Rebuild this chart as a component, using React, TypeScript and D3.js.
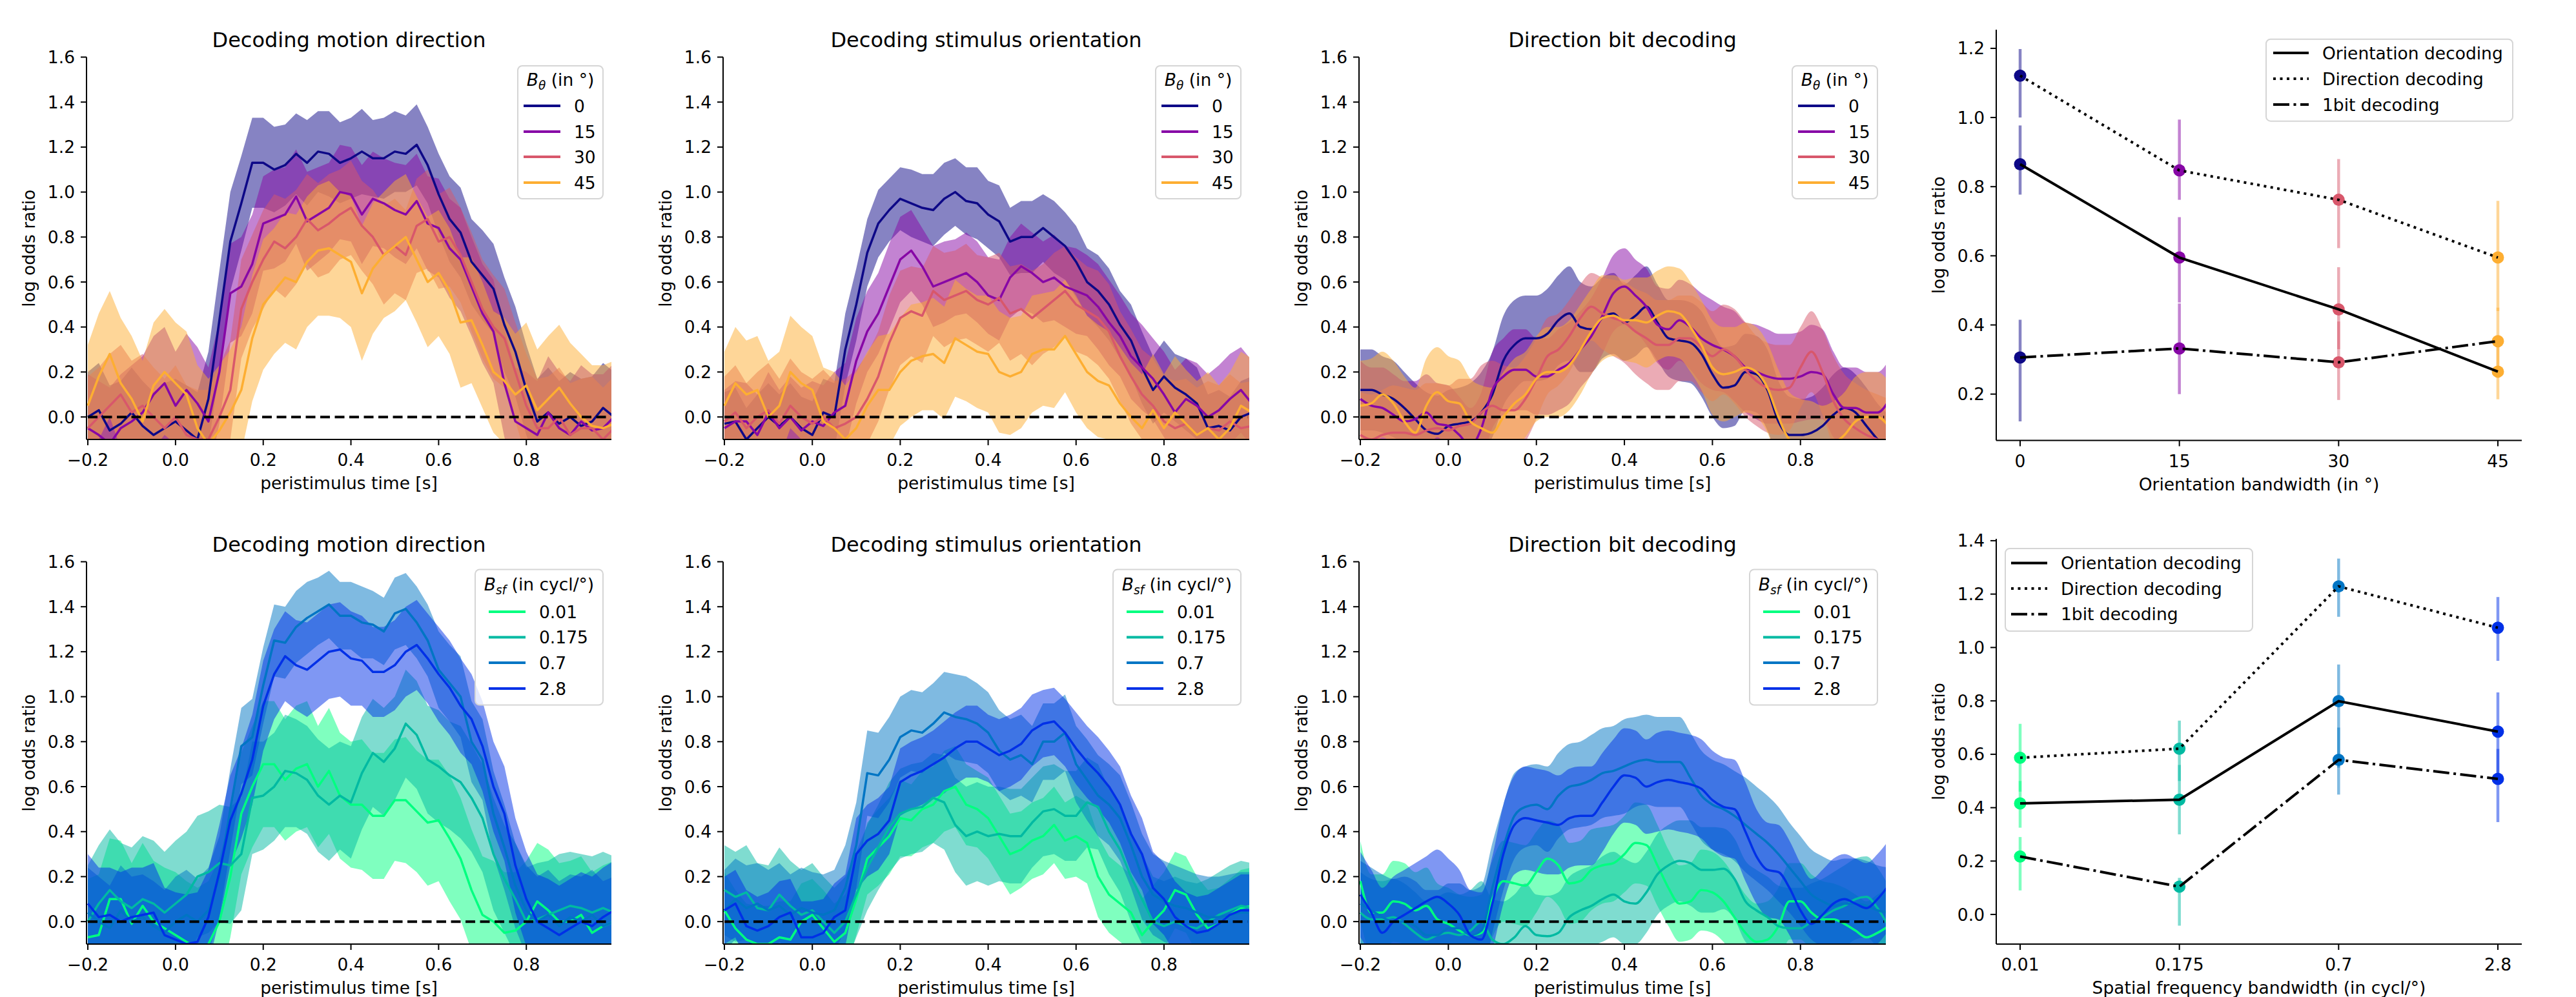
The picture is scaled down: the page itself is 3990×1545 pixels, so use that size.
import React from 'react';
import * as d3 from 'd3';

// ---------------- data ----------------
const TIMES = [-0.2, -0.175, -0.15, -0.125, -0.1, -0.075, -0.05, -0.025, 0.0, 0.025,
  0.05, 0.075, 0.1, 0.125, 0.15, 0.175, 0.2, 0.225, 0.25, 0.275,
  0.3, 0.325, 0.35, 0.375, 0.4, 0.425, 0.45, 0.475, 0.5, 0.525,
  0.55, 0.575, 0.6, 0.625, 0.65, 0.675, 0.7, 0.725, 0.75, 0.775,
  0.8, 0.825, 0.85, 0.875, 0.9, 0.925, 0.95, 0.975, 1.0];

const THETA_LABELS = ['0', '15', '30', '45'];
const SF_LABELS = ['0.01', '0.175', '0.7', '2.8'];
const THETA_COLORS = ['#0d0887', '#8707a6', '#d8576b', '#fdae32'];
const SF_COLORS = ['#00ff80', '#00baa2', '#0075c4', '#0030e7'];

const TIME_XTICKS = [-0.2, 0, 0.2, 0.4, 0.6, 0.8];
const TIME_YTICKS = [0, 0.2, 0.4, 0.6, 0.8, 1.0, 1.2, 1.4, 1.6];

// Panel 1: decoding motion direction (B_theta)
const motTh0 = [0.0, 0.03, -0.06, -0.03, 0.02, -0.04, -0.08, -0.05, -0.02, -0.06, -0.1, 0.08, 0.43, 0.78, 0.95, 1.13, 1.13, 1.1, 1.12, 1.17, 1.13, 1.18, 1.17, 1.13, 1.15, 1.18, 1.15, 1.15, 1.18, 1.17, 1.21, 1.12, 0.99, 0.88, 0.82, 0.69, 0.63, 0.57, 0.41, 0.29, 0.12, -0.02, 0.02, -0.03, 0.0, -0.04, -0.02, 0.04, 0.0];
const motTh0Err = [0.2, 0.21, 0.2, 0.19, 0.2, 0.2, 0.19, 0.2, 0.19, 0.2, 0.21, 0.21, 0.22, 0.22, 0.21, 0.2, 0.2, 0.19, 0.18, 0.18, 0.19, 0.18, 0.19, 0.18, 0.18, 0.19, 0.17, 0.18, 0.18, 0.17, 0.18, 0.17, 0.18, 0.19, 0.2, 0.19, 0.2, 0.2, 0.21, 0.2, 0.2, 0.19, 0.2, 0.19, 0.2, 0.21, 0.2, 0.2, 0.2];
const motTh15 = [-0.05, -0.08, -0.12, -0.05, -0.02, 0.02, 0.1, 0.15, 0.05, 0.12, 0.06, -0.02, 0.2, 0.55, 0.58, 0.68, 0.86, 0.88, 0.9, 0.98, 0.87, 0.9, 0.93, 1.0, 0.99, 0.9, 0.97, 0.95, 0.92, 0.9, 0.96, 0.86, 0.84, 0.75, 0.7, 0.58, 0.46, 0.38, 0.15, -0.02, -0.05, -0.08, 0.02, -0.05, -0.08, -0.02, -0.06, -0.05, 0.0];
const motTh15Err = [0.24, 0.24, 0.25, 0.24, 0.25, 0.25, 0.26, 0.25, 0.24, 0.25, 0.25, 0.24, 0.23, 0.22, 0.22, 0.22, 0.21, 0.22, 0.21, 0.21, 0.22, 0.21, 0.2, 0.21, 0.21, 0.22, 0.21, 0.2, 0.21, 0.22, 0.21, 0.21, 0.22, 0.22, 0.23, 0.22, 0.22, 0.23, 0.24, 0.24, 0.25, 0.24, 0.25, 0.25, 0.24, 0.25, 0.25, 0.24, 0.24];
const motTh30 = [-0.05, 0.0, 0.05, 0.1, 0.02, 0.05, 0.0, -0.05, 0.0, -0.08, -0.1, -0.1, 0.0, 0.12, 0.48, 0.6, 0.7, 0.78, 0.75, 0.8, 0.88, 0.83, 0.86, 0.9, 0.93, 0.85, 0.8, 0.72, 0.76, 0.72, 0.85, 0.88, 0.78, 0.8, 0.72, 0.6, 0.48, 0.4, 0.35, 0.2, 0.05, -0.05, -0.05, 0.0, -0.08, -0.05, -0.05, -0.1, -0.05];
const motTh30Err = [0.23, 0.22, 0.23, 0.22, 0.23, 0.23, 0.22, 0.22, 0.23, 0.22, 0.22, 0.22, 0.23, 0.22, 0.22, 0.21, 0.22, 0.21, 0.22, 0.21, 0.2, 0.21, 0.22, 0.2, 0.21, 0.2, 0.21, 0.22, 0.21, 0.2, 0.21, 0.22, 0.21, 0.22, 0.21, 0.22, 0.22, 0.23, 0.22, 0.22, 0.23, 0.22, 0.23, 0.22, 0.23, 0.22, 0.23, 0.23, 0.23];
const motTh45 = [0.05, 0.18, 0.28, 0.15, 0.08, -0.02, 0.14, 0.2, 0.15, 0.1, -0.05, -0.12, -0.06, 0.02, 0.12, 0.35, 0.5, 0.56, 0.62, 0.6, 0.69, 0.74, 0.75, 0.72, 0.69, 0.55, 0.66, 0.72, 0.76, 0.8, 0.7, 0.6, 0.64, 0.56, 0.42, 0.43, 0.32, 0.2, 0.16, 0.1, 0.14, 0.03, 0.08, 0.13, 0.06, 0.0, -0.04, -0.05, -0.03];
const motTh45Err = [0.27, 0.28, 0.28, 0.29, 0.28, 0.27, 0.28, 0.28, 0.27, 0.28, 0.28, 0.29, 0.29, 0.28, 0.28, 0.28, 0.29, 0.28, 0.29, 0.3, 0.29, 0.29, 0.3, 0.28, 0.29, 0.3, 0.29, 0.28, 0.29, 0.28, 0.28, 0.29, 0.28, 0.28, 0.29, 0.28, 0.28, 0.27, 0.28, 0.27, 0.28, 0.27, 0.28, 0.28, 0.27, 0.28, 0.27, 0.28, 0.28];

// Panel 2: decoding stimulus orientation (B_theta)
const oriTh0 = [-0.03, -0.02, -0.1, -0.05, 0.0, -0.04, 0.0, -0.05, -0.08, 0.02, 0.0, 0.3, 0.5, 0.73, 0.86, 0.92, 0.97, 0.95, 0.93, 0.92, 0.97, 1.0, 0.96, 0.95, 0.9, 0.87, 0.78, 0.8, 0.8, 0.84, 0.8, 0.76, 0.69, 0.6, 0.56, 0.5, 0.41, 0.34, 0.22, 0.12, 0.18, 0.13, 0.1, 0.06, -0.05, -0.04, -0.06, 0.0, 0.02];
const oriTh0Err = [0.14, 0.15, 0.14, 0.15, 0.15, 0.14, 0.15, 0.14, 0.15, 0.15, 0.15, 0.16, 0.16, 0.15, 0.15, 0.14, 0.14, 0.15, 0.15, 0.16, 0.16, 0.15, 0.15, 0.16, 0.15, 0.16, 0.15, 0.16, 0.16, 0.15, 0.16, 0.15, 0.16, 0.15, 0.16, 0.16, 0.15, 0.16, 0.16, 0.15, 0.16, 0.15, 0.16, 0.16, 0.15, 0.16, 0.15, 0.16, 0.16];
const oriTh15 = [-0.05, -0.02, -0.02, -0.08, 0.02, -0.05, 0.0, -0.06, -0.02, -0.04, 0.02, 0.05, 0.25, 0.38, 0.46, 0.58, 0.7, 0.74, 0.67, 0.58, 0.6, 0.62, 0.64, 0.6, 0.54, 0.52, 0.62, 0.67, 0.64, 0.6, 0.62, 0.58, 0.56, 0.54, 0.49, 0.42, 0.36, 0.27, 0.22, 0.17, 0.1, 0.02, 0.08, 0.05, 0.0, 0.03, 0.08, 0.12, 0.06];
const oriTh15Err = [0.17, 0.18, 0.17, 0.18, 0.18, 0.17, 0.18, 0.19, 0.18, 0.18, 0.18, 0.19, 0.19, 0.18, 0.18, 0.19, 0.19, 0.18, 0.17, 0.18, 0.18, 0.17, 0.18, 0.18, 0.17, 0.18, 0.18, 0.19, 0.18, 0.18, 0.19, 0.18, 0.19, 0.18, 0.19, 0.19, 0.18, 0.19, 0.19, 0.18, 0.19, 0.19, 0.18, 0.19, 0.19, 0.2, 0.2, 0.19, 0.19];
const oriTh30 = [-0.02, 0.02, -0.05, 0.0, 0.03, -0.03, 0.05, 0.0, -0.03, 0.0, -0.05, -0.03, 0.0, 0.08, 0.18, 0.33, 0.44, 0.47, 0.45, 0.56, 0.52, 0.54, 0.56, 0.52, 0.5, 0.53, 0.46, 0.48, 0.44, 0.48, 0.52, 0.56, 0.5, 0.47, 0.44, 0.38, 0.27, 0.18, 0.1, 0.05, -0.02, -0.05, -0.03, -0.08, -0.05, -0.06, -0.02, -0.05, -0.04];
const oriTh30Err = [0.2, 0.21, 0.2, 0.2, 0.21, 0.2, 0.21, 0.2, 0.2, 0.21, 0.21, 0.2, 0.21, 0.2, 0.2, 0.21, 0.21, 0.2, 0.21, 0.2, 0.21, 0.2, 0.21, 0.2, 0.21, 0.2, 0.21, 0.2, 0.21, 0.2, 0.21, 0.2, 0.21, 0.2, 0.21, 0.21, 0.2, 0.21, 0.2, 0.21, 0.2, 0.21, 0.2, 0.21, 0.21, 0.2, 0.21, 0.2, 0.2];
const oriTh45 = [0.05, 0.15, 0.1, 0.12, 0.0, 0.05, 0.2, 0.15, 0.12, -0.02, -0.05, -0.1, -0.05, 0.05, 0.12, 0.12, 0.2, 0.25, 0.27, 0.28, 0.24, 0.35, 0.32, 0.29, 0.28, 0.2, 0.18, 0.2, 0.28, 0.3, 0.3, 0.36, 0.28, 0.2, 0.16, 0.14, 0.06, 0.0, -0.05, 0.03, -0.05, 0.02, -0.03, -0.08, -0.05, -0.1, -0.05, 0.05, 0.02];
const oriTh45Err = [0.24, 0.25, 0.24, 0.24, 0.25, 0.24, 0.25, 0.25, 0.24, 0.24, 0.25, 0.24, 0.25, 0.24, 0.24, 0.25, 0.24, 0.25, 0.24, 0.25, 0.25, 0.26, 0.25, 0.25, 0.26, 0.27, 0.26, 0.25, 0.26, 0.25, 0.26, 0.25, 0.26, 0.25, 0.25, 0.24, 0.25, 0.24, 0.24, 0.25, 0.24, 0.25, 0.24, 0.24, 0.25, 0.24, 0.25, 0.24, 0.24];

// Panel 3: direction bit decoding (B_theta)
const bitTh0 = [0.12, 0.12, 0.1, 0.08, 0.04, -0.01, -0.06, -0.075, -0.04, -0.03, -0.02, 0.02, 0.1, 0.25, 0.32, 0.35, 0.35, 0.37, 0.43, 0.46, 0.4, 0.39, 0.44, 0.46, 0.42, 0.45, 0.49, 0.42, 0.35, 0.34, 0.33, 0.28, 0.19, 0.13, 0.14, 0.2, 0.19, 0.12, -0.02, -0.08, -0.08, -0.07, -0.04, 0.01, 0.04, 0.02, -0.04, -0.1, -0.15];
const bitTh0Err = [0.18, 0.18, 0.17, 0.17, 0.16, 0.16, 0.17, 0.17, 0.16, 0.16, 0.17, 0.18, 0.19, 0.2, 0.2, 0.19, 0.19, 0.2, 0.2, 0.21, 0.2, 0.19, 0.18, 0.18, 0.17, 0.18, 0.18, 0.17, 0.17, 0.18, 0.18, 0.19, 0.19, 0.18, 0.18, 0.17, 0.17, 0.18, 0.18, 0.17, 0.16, 0.16, 0.17, 0.18, 0.18, 0.17, 0.17, 0.16, 0.16];
const bitTh15 = [0.08, 0.05, 0.04, 0.01, -0.02, -0.01, 0.02, -0.03, -0.04, -0.08, -0.13, -0.05, 0.12, 0.18, 0.21, 0.21, 0.18, 0.18, 0.21, 0.24, 0.3, 0.36, 0.45, 0.55, 0.58, 0.54, 0.49, 0.41, 0.39, 0.43, 0.4, 0.35, 0.32, 0.3, 0.27, 0.22, 0.2, 0.18, 0.17, 0.17, 0.18, 0.2, 0.19, 0.1, 0.04, 0.04, 0.02, 0.02, 0.07];
const bitTh15Err = [0.17, 0.17, 0.18, 0.18, 0.18, 0.17, 0.17, 0.18, 0.18, 0.17, 0.17, 0.16, 0.17, 0.17, 0.18, 0.18, 0.17, 0.17, 0.18, 0.18, 0.17, 0.17, 0.17, 0.17, 0.17, 0.16, 0.17, 0.17, 0.18, 0.18, 0.19, 0.2, 0.2, 0.19, 0.2, 0.2, 0.21, 0.21, 0.2, 0.2, 0.2, 0.21, 0.2, 0.19, 0.18, 0.18, 0.18, 0.18, 0.18];
const bitTh30 = [-0.08, -0.1, -0.08, -0.07, -0.07, -0.08, -0.06, -0.05, -0.06, -0.04, -0.03, 0.02, 0.05, 0.03, 0.03, 0.08, 0.17, 0.27, 0.3, 0.36, 0.44, 0.49, 0.46, 0.44, 0.42, 0.38, 0.35, 0.32, 0.32, 0.35, 0.35, 0.31, 0.27, 0.3, 0.27, 0.21, 0.16, 0.13, 0.12, 0.13, 0.22, 0.29, 0.2, 0.07, -0.01, -0.05, -0.08, -0.1, -0.12];
const bitTh30Err = [0.19, 0.2, 0.2, 0.21, 0.2, 0.2, 0.21, 0.2, 0.2, 0.21, 0.2, 0.21, 0.2, 0.2, 0.19, 0.19, 0.18, 0.17, 0.16, 0.16, 0.15, 0.15, 0.16, 0.17, 0.18, 0.19, 0.2, 0.2, 0.2, 0.19, 0.19, 0.2, 0.2, 0.2, 0.21, 0.21, 0.2, 0.2, 0.2, 0.19, 0.18, 0.18, 0.19, 0.2, 0.2, 0.2, 0.2, 0.2, 0.2];
const bitTh45 = [0.05, 0.06, 0.1, 0.06, -0.02, -0.07, 0.05, 0.11, 0.07, 0.06, -0.02, -0.05, -0.07, 0.0, 0.06, 0.1, 0.17, 0.2, 0.2, 0.23, 0.3, 0.38, 0.44, 0.45, 0.43, 0.43, 0.42, 0.45, 0.47, 0.46, 0.4, 0.32, 0.22, 0.19, 0.2, 0.22, 0.2, 0.13, 0.0, -0.1, -0.12, -0.13, -0.15, -0.12, -0.08, -0.02, 0.0, 0.0, -0.04];
const bitTh45Err = [0.2, 0.2, 0.19, 0.19, 0.2, 0.2, 0.21, 0.2, 0.2, 0.19, 0.19, 0.19, 0.2, 0.2, 0.2, 0.19, 0.19, 0.2, 0.2, 0.2, 0.2, 0.19, 0.19, 0.18, 0.18, 0.19, 0.2, 0.2, 0.2, 0.2, 0.2, 0.2, 0.21, 0.21, 0.2, 0.2, 0.2, 0.2, 0.21, 0.21, 0.2, 0.2, 0.2, 0.19, 0.19, 0.2, 0.2, 0.2, 0.2];

// Panel 5: decoding motion direction (B_sf)
const motSf001 = [-0.07, -0.06, 0.1, 0.1, -0.01, 0.07, 0.0, -0.03, -0.06, -0.09, -0.12, -0.1, 0.0, 0.2, 0.48, 0.6, 0.7, 0.7, 0.63, 0.68, 0.7, 0.6, 0.67, 0.56, 0.52, 0.52, 0.47, 0.47, 0.54, 0.54, 0.49, 0.44, 0.45, 0.37, 0.28, 0.14, 0.03, 0.0, -0.05, -0.04, 0.0, 0.09, 0.05, 0.0, 0.0, 0.03, -0.05, -0.02, 0.0];
const motSf001Err = [0.26, 0.27, 0.27, 0.26, 0.27, 0.28, 0.27, 0.27, 0.28, 0.27, 0.27, 0.28, 0.28, 0.27, 0.27, 0.27, 0.28, 0.28, 0.27, 0.28, 0.28, 0.27, 0.28, 0.28, 0.28, 0.29, 0.28, 0.28, 0.27, 0.28, 0.27, 0.28, 0.27, 0.28, 0.27, 0.27, 0.26, 0.27, 0.27, 0.26, 0.27, 0.26, 0.27, 0.26, 0.27, 0.26, 0.27, 0.27, 0.27];
const motSf0175 = [0.0, 0.08, 0.14, 0.09, 0.06, 0.1, 0.08, 0.04, 0.08, 0.12, 0.2, 0.22, 0.26, 0.25, 0.3, 0.55, 0.56, 0.6, 0.67, 0.66, 0.63, 0.56, 0.52, 0.56, 0.53, 0.66, 0.75, 0.71, 0.77, 0.88, 0.83, 0.72, 0.69, 0.65, 0.62, 0.55, 0.46, 0.3, 0.19, 0.1, 0.0, 0.01, 0.03, 0.05, 0.07, 0.06, 0.04, 0.06, 0.04];
const motSf0175Err = [0.25, 0.26, 0.27, 0.26, 0.27, 0.28, 0.28, 0.27, 0.28, 0.28, 0.27, 0.27, 0.26, 0.26, 0.25, 0.25, 0.24, 0.24, 0.25, 0.24, 0.24, 0.25, 0.25, 0.24, 0.25, 0.25, 0.24, 0.24, 0.23, 0.24, 0.24, 0.24, 0.25, 0.24, 0.25, 0.24, 0.24, 0.25, 0.24, 0.25, 0.24, 0.25, 0.24, 0.25, 0.24, 0.24, 0.25, 0.25, 0.25];
const motSf07 = [0.04, 0.0, -0.03, 0.05, 0.0, 0.02, -0.02, -0.05, 0.0, 0.03, 0.0, 0.05, 0.2, 0.5, 0.78, 0.82, 1.05, 1.25, 1.24, 1.31, 1.35, 1.38, 1.41, 1.36, 1.36, 1.33, 1.32, 1.29, 1.37, 1.39, 1.33, 1.25, 1.12, 1.06, 1.0, 0.8, 0.72, 0.48, 0.33, 0.16, 0.05, 0.0, 0.03, -0.02, 0.02, 0.0, 0.03, -0.02, 0.0];
const motSf07Err = [0.2, 0.2, 0.19, 0.2, 0.2, 0.19, 0.2, 0.19, 0.2, 0.2, 0.19, 0.19, 0.18, 0.18, 0.17, 0.17, 0.17, 0.16, 0.16, 0.16, 0.16, 0.15, 0.15, 0.15, 0.15, 0.16, 0.15, 0.15, 0.16, 0.16, 0.16, 0.16, 0.17, 0.17, 0.18, 0.18, 0.18, 0.19, 0.19, 0.19, 0.2, 0.2, 0.2, 0.2, 0.19, 0.2, 0.2, 0.2, 0.2];
const motSf28 = [0.08, 0.02, 0.03, 0.0, 0.02, 0.03, 0.04, -0.06, -0.08, -0.1, -0.09, 0.02, 0.22, 0.45, 0.57, 0.72, 0.96, 1.1, 1.18, 1.14, 1.12, 1.16, 1.2, 1.21, 1.17, 1.16, 1.11, 1.11, 1.14, 1.2, 1.23, 1.17, 1.1, 1.04, 0.96, 0.9, 0.78, 0.6, 0.48, 0.25, 0.1, 0.0, -0.03, -0.06, -0.03, 0.0, -0.02, 0.02, 0.05];
const motSf28Err = [0.22, 0.22, 0.21, 0.22, 0.22, 0.21, 0.22, 0.21, 0.21, 0.22, 0.22, 0.21, 0.21, 0.2, 0.2, 0.2, 0.2, 0.2, 0.2, 0.2, 0.21, 0.21, 0.21, 0.21, 0.21, 0.2, 0.2, 0.2, 0.2, 0.2, 0.2, 0.2, 0.21, 0.21, 0.21, 0.2, 0.2, 0.2, 0.21, 0.21, 0.21, 0.21, 0.22, 0.22, 0.22, 0.22, 0.22, 0.22, 0.22];

// Panel 6: decoding stimulus orientation (B_sf)
const oriSf001 = [0.05, -0.03, -0.08, -0.1, -0.1, -0.07, -0.08, 0.0, 0.03, -0.03, -0.09, -0.05, 0.1, 0.28, 0.33, 0.38, 0.46, 0.45, 0.5, 0.52, 0.58, 0.6, 0.52, 0.5, 0.46, 0.38, 0.3, 0.32, 0.36, 0.38, 0.43, 0.36, 0.38, 0.35, 0.2, 0.12, 0.08, 0.04, -0.06, 0.0, 0.05, 0.14, 0.12, 0.03, -0.03, -0.01, 0.03, 0.06, 0.07];
const oriSf001Err = [0.17, 0.17, 0.16, 0.17, 0.17, 0.16, 0.17, 0.17, 0.16, 0.17, 0.17, 0.17, 0.16, 0.16, 0.17, 0.17, 0.17, 0.16, 0.17, 0.17, 0.18, 0.18, 0.18, 0.17, 0.18, 0.18, 0.18, 0.17, 0.17, 0.17, 0.17, 0.17, 0.18, 0.18, 0.18, 0.17, 0.17, 0.17, 0.16, 0.16, 0.17, 0.17, 0.17, 0.17, 0.17, 0.16, 0.16, 0.17, 0.17];
const oriSf0175 = [0.14, 0.11, 0.13, 0.06, 0.05, 0.12, 0.07, 0.03, 0.05, 0.0, -0.05, 0.0, 0.12, 0.24, 0.33, 0.42, 0.48, 0.5, 0.51, 0.55, 0.53, 0.43, 0.38, 0.4, 0.38, 0.39, 0.38, 0.38, 0.44, 0.49, 0.5, 0.47, 0.47, 0.53, 0.51, 0.4, 0.32, 0.2, 0.1, 0.0, -0.02, 0.0, -0.02, -0.03, 0.0, 0.03, 0.05, 0.07, 0.06];
const oriSf0175Err = [0.2, 0.2, 0.21, 0.2, 0.2, 0.21, 0.2, 0.2, 0.21, 0.2, 0.2, 0.2, 0.19, 0.19, 0.19, 0.2, 0.2, 0.2, 0.2, 0.2, 0.21, 0.21, 0.22, 0.22, 0.22, 0.21, 0.21, 0.21, 0.2, 0.2, 0.2, 0.2, 0.2, 0.2, 0.19, 0.19, 0.19, 0.2, 0.2, 0.2, 0.2, 0.2, 0.2, 0.2, 0.19, 0.19, 0.2, 0.2, 0.2];
const oriSf07 = [0.05, 0.1, 0.06, 0.08, 0.05, 0.07, 0.03, 0.06, 0.04, 0.03, 0.05, 0.15, 0.34, 0.66, 0.65, 0.72, 0.82, 0.85, 0.84, 0.88, 0.93, 0.91, 0.9, 0.88, 0.84, 0.76, 0.72, 0.74, 0.7, 0.8, 0.8, 0.84, 0.7, 0.63, 0.56, 0.52, 0.46, 0.34, 0.2, 0.12, 0.09, 0.07, 0.06, 0.04, 0.02, 0.02, 0.03, 0.04, 0.04];
const oriSf07Err = [0.18, 0.18, 0.19, 0.18, 0.18, 0.19, 0.18, 0.18, 0.18, 0.18, 0.18, 0.19, 0.19, 0.19, 0.19, 0.19, 0.18, 0.18, 0.18, 0.18, 0.18, 0.19, 0.19, 0.18, 0.18, 0.18, 0.18, 0.18, 0.17, 0.17, 0.17, 0.17, 0.17, 0.18, 0.18, 0.18, 0.19, 0.19, 0.19, 0.18, 0.18, 0.18, 0.17, 0.17, 0.18, 0.18, 0.18, 0.18, 0.18];
const oriSf28 = [0.05, 0.08, -0.02, -0.04, -0.02, 0.02, 0.04, -0.07, -0.07, -0.05, 0.02, 0.05, 0.3, 0.36, 0.39, 0.45, 0.62, 0.65, 0.67, 0.7, 0.73, 0.77, 0.8, 0.8, 0.77, 0.74, 0.76, 0.79, 0.85, 0.88, 0.89, 0.84, 0.77, 0.71, 0.66, 0.6, 0.52, 0.39, 0.3, 0.15, 0.1, 0.02, -0.02, -0.05, -0.04, -0.01, 0.03, 0.05, 0.05];
const oriSf28Err = [0.15, 0.15, 0.16, 0.15, 0.15, 0.16, 0.15, 0.16, 0.16, 0.15, 0.15, 0.16, 0.16, 0.16, 0.16, 0.15, 0.15, 0.15, 0.15, 0.15, 0.16, 0.16, 0.16, 0.16, 0.15, 0.16, 0.16, 0.16, 0.16, 0.15, 0.15, 0.15, 0.16, 0.16, 0.16, 0.16, 0.17, 0.17, 0.16, 0.16, 0.16, 0.16, 0.15, 0.16, 0.16, 0.16, 0.15, 0.16, 0.16];

// Panel 7: direction bit decoding (B_sf)
const bitSf001 = [0.18, 0.04, 0.04, 0.09, 0.08, 0.05, 0.07, 0.01, -0.01, -0.04, -0.06, -0.05, 0.1, 0.18, 0.17, 0.16, 0.22, 0.28, 0.25, 0.17, 0.18, 0.23, 0.25, 0.26, 0.3, 0.35, 0.34, 0.25, 0.15, 0.08, 0.09, 0.14, 0.13, 0.09, 0.02, -0.05, -0.09, -0.08, -0.02, 0.09, 0.09, 0.04, 0.01, 0.01, -0.01, -0.04, -0.07, -0.05, -0.02];
const bitSf001Err = [0.18, 0.17, 0.17, 0.18, 0.18, 0.17, 0.17, 0.16, 0.16, 0.16, 0.17, 0.17, 0.17, 0.18, 0.18, 0.18, 0.18, 0.17, 0.18, 0.18, 0.18, 0.18, 0.17, 0.17, 0.17, 0.18, 0.18, 0.18, 0.17, 0.17, 0.17, 0.18, 0.18, 0.18, 0.18, 0.17, 0.17, 0.17, 0.17, 0.17, 0.17, 0.17, 0.17, 0.16, 0.16, 0.16, 0.16, 0.17, 0.17];
const bitSf0175 = [0.04, 0.01, 0.01, 0.02, -0.01, -0.05, -0.08, -0.06, -0.05, -0.06, -0.04, 0.0, -0.08, -0.1, -0.07, -0.02, -0.06, -0.065, -0.05, 0.02, 0.05, 0.07, 0.1, 0.12, 0.09, 0.08, 0.13, 0.21, 0.25, 0.27, 0.26, 0.23, 0.23, 0.235, 0.19, 0.09, 0.05, 0.02, -0.02, -0.03, -0.03, 0.0, 0.02, 0.05, 0.07, 0.1, 0.11, 0.06, -0.02];
const bitSf0175Err = [0.18, 0.18, 0.17, 0.17, 0.18, 0.18, 0.17, 0.17, 0.18, 0.18, 0.18, 0.18, 0.18, 0.19, 0.19, 0.19, 0.18, 0.18, 0.18, 0.18, 0.18, 0.18, 0.19, 0.19, 0.19, 0.18, 0.18, 0.18, 0.18, 0.18, 0.19, 0.19, 0.19, 0.18, 0.18, 0.18, 0.18, 0.18, 0.18, 0.18, 0.18, 0.17, 0.17, 0.17, 0.18, 0.18, 0.18, 0.18, 0.18];
const bitSf07 = [0.08, 0.05, 0.02, 0.0, 0.0, -0.02, -0.06, -0.06, -0.03, -0.03, -0.06, -0.04, 0.15, 0.33, 0.47, 0.51, 0.52, 0.5, 0.56, 0.6, 0.61, 0.63, 0.66, 0.67, 0.69, 0.71, 0.72, 0.71, 0.71, 0.71, 0.64, 0.56, 0.52, 0.5, 0.47, 0.43, 0.39, 0.35, 0.3, 0.24, 0.18, 0.12, 0.09, 0.07, 0.08, 0.08, 0.07, 0.05, 0.04];
const bitSf07Err = [0.19, 0.19, 0.19, 0.19, 0.2, 0.2, 0.2, 0.2, 0.2, 0.2, 0.2, 0.2, 0.2, 0.19, 0.19, 0.18, 0.18, 0.19, 0.19, 0.19, 0.19, 0.2, 0.2, 0.2, 0.21, 0.2, 0.2, 0.2, 0.2, 0.2, 0.2, 0.2, 0.2, 0.2, 0.2, 0.21, 0.21, 0.21, 0.21, 0.2, 0.2, 0.2, 0.2, 0.2, 0.2, 0.2, 0.2, 0.2, 0.2];
const bitSf28 = [0.12, 0.04, -0.05, 0.0, 0.03, 0.06, 0.09, 0.11, 0.08, 0.03, -0.06, -0.08, 0.08, 0.3, 0.43, 0.46, 0.45, 0.44, 0.43, 0.46, 0.47, 0.47, 0.53, 0.6, 0.65, 0.64, 0.6, 0.62, 0.63, 0.62, 0.61, 0.59, 0.54, 0.51, 0.5, 0.4, 0.29, 0.23, 0.22, 0.15, 0.05, -0.01, 0.03, 0.08, 0.1, 0.08, 0.06, 0.1, 0.16];
const bitSf28Err = [0.19, 0.19, 0.2, 0.2, 0.2, 0.2, 0.2, 0.21, 0.2, 0.2, 0.2, 0.21, 0.21, 0.22, 0.22, 0.23, 0.23, 0.23, 0.22, 0.22, 0.22, 0.22, 0.22, 0.21, 0.21, 0.21, 0.21, 0.22, 0.22, 0.22, 0.22, 0.22, 0.22, 0.22, 0.22, 0.22, 0.21, 0.21, 0.21, 0.21, 0.21, 0.2, 0.2, 0.2, 0.2, 0.2, 0.2, 0.2, 0.2];

// Panel 4: summary vs orientation bandwidth
const THETA_BW = [0, 15, 30, 45];
const sumThOri = [0.865, 0.595, 0.445, 0.265];
const sumThOriLo = [0.777, 0.465, 0.33, 0.185];
const sumThOriHi = [0.977, 0.712, 0.567, 0.37];
const sumThDir = [1.121, 0.847, 0.762, 0.595];
const sumThDirLo = [1.0, 0.762, 0.622, 0.44];
const sumThDirHi = [1.198, 0.994, 0.88, 0.759];
const sumThBit = [0.306, 0.332, 0.292, 0.353];
const sumThBitLo = [0.121, 0.2, 0.183, 0.25];
const sumThBitHi = [0.415, 0.462, 0.41, 0.45];

// Panel 8: summary vs spatial frequency bandwidth (categorical)
const SF_POS = [0, 1, 2, 3];
const sumSfOri = [0.416, 0.43, 0.799, 0.685];
const sumSfOriLo = [0.325, 0.3, 0.55, 0.52];
const sumSfOriHi = [0.5, 0.56, 0.936, 0.832];
const sumSfDir = [0.587, 0.621, 1.229, 1.074];
const sumSfDirLo = [0.46, 0.5, 1.115, 0.95];
const sumSfDirHi = [0.714, 0.726, 1.333, 1.189];
const sumSfBit = [0.217, 0.104, 0.579, 0.508];
const sumSfBitLo = [0.09, -0.042, 0.449, 0.346];
const sumSfBitHi = [0.29, 0.137, 0.7, 0.62];

const SUM_LEGEND = ['Orientation decoding', 'Direction decoding', '1bit decoding'];

// ---------------- layout / styles ----------------
const FONT = "'DejaVu Sans', 'Liberation Sans', sans-serif";
const FS = 26.5;
const TITLE_FS = 32;
const TICK = 9;
const DASH = ['', '4,6.5', '25,6.5,4,6.5'];

const fmt1 = (v: number) => (v < 0 ? '\u2212' + Math.abs(v).toFixed(1) : v.toFixed(1));

const LEG = [
  { w: 132, h: 206, top: 13.5, titleDy: 31, rows: [62, 102, 141, 181], h0: 9, h1: 66, lx: 87 },
  { w: 198, h: 210, top: 12, titleDy: 32.5, rows: [65.5, 105, 144.5, 184.5], h0: 21, h1: 78, lx: 99 },
];

const ROW_TOP = [88.5, 870.5];
const ROW_BOTTOM = [681, 1463];
const COL_LEFT = [134, 1120, 2105];
const COL_RIGHT = [947, 1935, 2921];

const TIME_PANELS = [
  { row: 0, col: 0, title: 'Decoding motion direction', smooth: false, sf: false,
    series: [[motTh0, motTh0Err], [motTh15, motTh15Err], [motTh30, motTh30Err], [motTh45, motTh45Err]] },
  { row: 0, col: 1, title: 'Decoding stimulus orientation', smooth: false, sf: false,
    series: [[oriTh0, oriTh0Err], [oriTh15, oriTh15Err], [oriTh30, oriTh30Err], [oriTh45, oriTh45Err]] },
  { row: 0, col: 2, title: 'Direction bit decoding', smooth: true, sf: false,
    series: [[bitTh0, bitTh0Err], [bitTh15, bitTh15Err], [bitTh30, bitTh30Err], [bitTh45, bitTh45Err]] },
  { row: 1, col: 0, title: 'Decoding motion direction', smooth: false, sf: true,
    series: [[motSf001, motSf001Err], [motSf0175, motSf0175Err], [motSf07, motSf07Err], [motSf28, motSf28Err]] },
  { row: 1, col: 1, title: 'Decoding stimulus orientation', smooth: false, sf: true,
    series: [[oriSf001, oriSf001Err], [oriSf0175, oriSf0175Err], [oriSf07, oriSf07Err], [oriSf28, oriSf28Err]] },
  { row: 1, col: 2, title: 'Direction bit decoding', smooth: true, sf: true,
    series: [[bitSf001, bitSf001Err], [bitSf0175, bitSf0175Err], [bitSf07, bitSf07Err], [bitSf28, bitSf28Err]] },
];

function YAxis({ x0, y, ticks, label, top, bottom }: any) {
  return (
    <g>
      <line x1={x0} x2={x0} y1={top} y2={bottom} stroke="#000" strokeWidth={2} />
      {ticks.map((t: number) => (
        <g key={t}>
          <line x1={x0 - TICK} x2={x0} y1={y(t)} y2={y(t)} stroke="#000" strokeWidth={2} />
          <text x={x0 - 18} y={y(t)} dy="0.36em" textAnchor="end" fontSize={FS} fontFamily={FONT}>{fmt1(t)}</text>
        </g>
      ))}
      <text transform={`translate(${x0 - 80},${(top + bottom) / 2}) rotate(-90)`} textAnchor="middle" fontSize={FS} fontFamily={FONT}>{label}</text>
    </g>
  );
}

function XAxis({ y0, x, ticks, labels, label, left, right }: any) {
  return (
    <g>
      <line x1={left} x2={right} y1={y0} y2={y0} stroke="#000" strokeWidth={2} />
      {ticks.map((t: number, i: number) => (
        <g key={i}>
          <line x1={x(t)} x2={x(t)} y1={y0} y2={y0 + TICK} stroke="#000" strokeWidth={2} />
          <text x={x(t)} y={y0 + 41} textAnchor="middle" fontSize={FS} fontFamily={FONT}>{labels[i]}</text>
        </g>
      ))}
      <text x={(left + right) / 2} y={y0 + 77} textAnchor="middle" fontSize={FS} fontFamily={FONT}>{label}</text>
    </g>
  );
}

function TimePanel({ p, idx }: any) {
  const left = COL_LEFT[p.col];
  const right = COL_RIGHT[p.col];
  const top = ROW_TOP[p.row];
  const bottom = ROW_BOTTOM[p.row];
  const x = d3.scaleLinear().domain([-0.203, 0.994]).range([left, right]);
  const y = d3.scaleLinear().domain([-0.1, 1.6]).range([bottom, top]);
  const curve = p.smooth ? d3.curveMonotoneX : d3.curveLinear;
  const colors = p.sf ? SF_COLORS : THETA_COLORS;
  const labels = p.sf ? SF_LABELS : THETA_LABELS;
  const shapes = p.series.map(([m, e]: number[][], k: number) => {
    const n = Math.min(m.length, e.length, TIMES.length);
    const ids = d3.range(n);
    const area = d3.area<number>().x((i) => x(TIMES[i])).y0((i) => y(m[i] - e[i])).y1((i) => y(m[i] + e[i])).curve(curve);
    const line = d3.line<number>().x((i) => x(TIMES[i])).y((i) => y(m[i])).curve(curve);
    return { area: area(ids) || '', line: line(ids) || '', color: colors[k] };
  });
  const clip = `clipT${idx}`;
  const lg = LEG[p.row];
  const bx = right - 13 - lg.w;
  const by = top + lg.top;
  const sub = p.sf ? 'sf' : '\u03b8';
  const rest = p.sf ? ' (in cycl/\u00b0)' : ' (in \u00b0)';
  return (
    <g>
      <defs>
        <clipPath id={clip}><rect x={left} y={top} width={right - left} height={bottom - top} /></clipPath>
      </defs>
      <g clipPath={`url(#${clip})`}>
        {shapes.map((s: any, k: number) => (
          <path key={'a' + k} d={s.area} fill={s.color} fillOpacity={0.5} stroke="none" />
        ))}
        {shapes.map((s: any, k: number) => (
          <path key={'l' + k} d={s.line} fill="none" stroke={s.color} strokeWidth={3.5} strokeLinejoin="round" />
        ))}
        <line x1={x(-0.2)} x2={x(0.99)} y1={y(0)} y2={y(0)} stroke="#000" strokeWidth={4} strokeDasharray="15,7.5" />
      </g>
      <YAxis x0={left} y={y} ticks={TIME_YTICKS} label="log odds ratio" top={top} bottom={bottom} />
      <XAxis y0={bottom} x={x} ticks={TIME_XTICKS} labels={TIME_XTICKS.map(fmt1)} label="peristimulus time [s]" left={left} right={right} />
      <text x={(left + right) / 2} y={top - 16} textAnchor="middle" fontSize={TITLE_FS} fontFamily={FONT}>{p.title}</text>
      <g>
        <rect x={bx} y={by} width={lg.w} height={lg.h} rx={7} fill="#fff" fillOpacity={0.8} stroke="#d5d5d5" strokeWidth={2} />
        <text x={bx + lg.w / 2} y={by + lg.titleDy} textAnchor="middle" fontSize={FS} fontFamily={FONT}>
          <tspan fontStyle="italic">B</tspan>
          <tspan fontStyle="italic" fontSize={FS * 0.7} dy={6}>{sub}</tspan>
          <tspan dy={-6}>{rest}</tspan>
        </text>
        {labels.map((lab: string, k: number) => (
          <g key={lab}>
            <line x1={bx + lg.h0} x2={bx + lg.h1} y1={by + lg.rows[k]} y2={by + lg.rows[k]} stroke={colors[k]} strokeWidth={4} />
            <text x={bx + lg.lx} y={by + lg.rows[k] + 9.5} fontSize={FS} fontFamily={FONT}>{lab}</text>
          </g>
        ))}
      </g>
    </g>
  );
}

function SummaryPanel({ s }: any) {
  const x = d3.scaleLinear().domain(s.xDomain).range([s.left, s.right]);
  const y = d3.scaleLinear().domain(s.yDomain).range([s.bottom, s.top]);
  const groups = [
    { v: s.ori, lo: s.oriLo, hi: s.oriHi },
    { v: s.dir, lo: s.dirLo, hi: s.dirHi },
    { v: s.bit, lo: s.bitLo, hi: s.bitHi },
  ];
  const line = d3.line<number>().x((_, i) => x(s.xs[i])).y((v) => y(v));
  const lg = s.legend;
  return (
    <g>
      {groups.map((g, gi) => g.v.map((_: number, i: number) => (
        <line key={`e${gi}-${i}`} x1={x(s.xs[i])} x2={x(s.xs[i])} y1={y(g.lo[i])} y2={y(g.hi[i])} stroke={s.colors[i]} strokeOpacity={0.5} strokeWidth={4.5} />
      )))}
      {groups.map((g, gi) => g.v.map((v: number, i: number) => (
        <circle key={`m${gi}-${i}`} cx={x(s.xs[i])} cy={y(v)} r={9.5} fill={s.colors[i]} />
      )))}
      {groups.map((g, gi) => (
        <path key={`l${gi}`} d={line(g.v) || ''} fill="none" stroke="#000" strokeWidth={4} strokeDasharray={DASH[gi] || undefined} />
      ))}
      <YAxis x0={s.left} y={y} ticks={s.yTicks} label="log odds ratio" top={s.top} bottom={s.bottom} />
      <XAxis y0={s.bottom} x={x} ticks={s.xs} labels={s.xLabels} label={s.xLabel} left={s.left} right={s.right} />
      <g>
        <rect x={lg.x} y={lg.y} width={lg.w} height={lg.h} rx={7} fill="#fff" fillOpacity={0.8} stroke="#d5d5d5" strokeWidth={2} />
        {SUM_LEGEND.map((lab, k) => (
          <g key={lab}>
            <line x1={lg.x + lg.h0} x2={lg.x + lg.h1} y1={lg.y + lg.rows[k]} y2={lg.y + lg.rows[k]} stroke="#000" strokeWidth={4} strokeDasharray={DASH[k] || undefined} />
            <text x={lg.x + lg.lx} y={lg.y + lg.rows[k] + 9.5} fontSize={FS} fontFamily={FONT}>{lab}</text>
          </g>
        ))}
      </g>
    </g>
  );
}

const SUMMARIES = [
  {
    left: 3092, right: 3906, top: 46, bottom: 682.5,
    xDomain: [-2.25, 47.25], yDomain: [0.066, 1.254],
    xs: THETA_BW, xLabels: THETA_BW.map(String), xLabel: 'Orientation bandwidth (in \u00b0)',
    yTicks: [0.2, 0.4, 0.6, 0.8, 1.0, 1.2], colors: THETA_COLORS,
    ori: sumThOri, oriLo: sumThOriLo, oriHi: sumThOriHi,
    dir: sumThDir, dirLo: sumThDirLo, dirHi: sumThDirHi,
    bit: sumThBit, bitLo: sumThBitLo, bitHi: sumThBitHi,
    legend: { x: 3510, y: 60.7, w: 382, h: 127, rows: [21.3, 61.3, 101.3], h0: 11, h1: 66, lx: 87 },
  },
  {
    left: 3092, right: 3906, top: 835, bottom: 1463,
    xDomain: [-0.15, 3.15], yDomain: [-0.111, 1.407],
    xs: SF_POS, xLabels: SF_LABELS, xLabel: 'Spatial frequency bandwidth (in cycl/\u00b0)',
    yTicks: [0, 0.2, 0.4, 0.6, 0.8, 1.0, 1.2, 1.4], colors: SF_COLORS,
    ori: sumSfOri, oriLo: sumSfOriLo, oriHi: sumSfOriHi,
    dir: sumSfDir, dirLo: sumSfDirLo, dirHi: sumSfDirHi,
    bit: sumSfBit, bitLo: sumSfBitLo, bitHi: sumSfBitHi,
    legend: { x: 3106, y: 850, w: 383, h: 128, rows: [22.5, 62, 101.8], h0: 9, h1: 65, lx: 86 },
  },
];

export default function App() {
  return (
    <div style={{ position: 'absolute', left: 0, top: 0, background: '#fff' }}>
      <svg width={3990} height={1545} viewBox="0 0 3990 1545" style={{ display: 'block', background: '#fff' }}>
        <rect x={0} y={0} width={3990} height={1545} fill="#fff" />
        {TIME_PANELS.map((p, i) => <TimePanel key={i} p={p} idx={i} />)}
        {SUMMARIES.map((s, i) => <SummaryPanel key={'s' + i} s={s} />)}
      </svg>
    </div>
  );
}
